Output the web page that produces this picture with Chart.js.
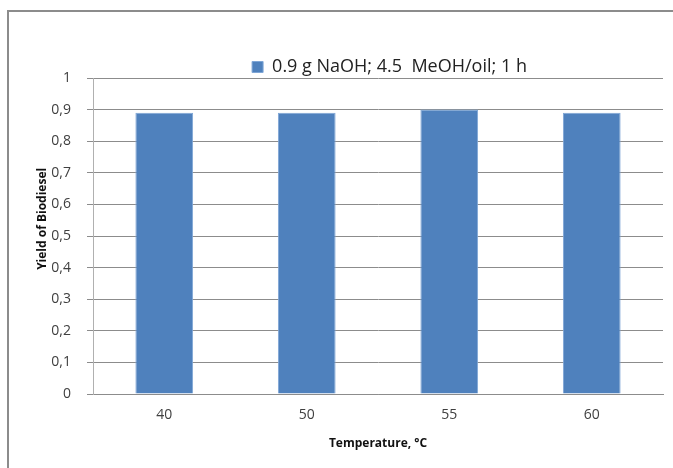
<!DOCTYPE html>
<html>
<head>
<meta charset="utf-8">
<script src="https://cdn.jsdelivr.net/npm/chart.js@4"></script>
<style>
  html, body { margin: 0; padding: 0; background: #fff; overflow: hidden; }
  #wrap { position: relative; width: 673px; height: 468px; }
  #frame { position: absolute; left: 7px; top: 10px; width: 700px; height: 500px;
           border: 2px solid #8c8c8c; box-sizing: border-box; }
  canvas { position: absolute; left: 0; top: 0; }
</style>
</head>
<body>
<div id="wrap">
  <div id="frame"></div>
  <canvas id="chart" width="673" height="468"></canvas>
</div>
<script>
// data
var temperatures = ['40', '50', '55', '60'];
var yieldValues = [0.89, 0.89, 0.90, 0.89];
var seriesName = '0.9 g NaOH; 4.5  MeOH/oil; 1 h';
var yTicks = [0, 0.1, 0.2, 0.3, 0.4, 0.5, 0.6, 0.7, 0.8, 0.9, 1];

function fmt(v) {
  if (v === 0 || v === 1) return String(v);
  return v.toFixed(1).replace('.', ',');
}

// the legend in the original sits right of centre and close to the plot
var legendShift = {
  id: 'legendShift',
  afterLayout: function(chart) {
    var lg = chart.legend;
    if (lg) {
      lg.left += 58; lg.right += 58;
      lg.top += 8; lg.bottom += 8;
    }
  }
};

var ctx = document.getElementById('chart').getContext('2d');
new Chart(ctx, {
  type: 'bar',
  data: {
    labels: temperatures,
    datasets: [{
      label: seriesName,
      data: yieldValues,
      backgroundColor: '#4F81BD',
      borderColor: '#7FA6D6',
      borderWidth: 1,
      barPercentage: 0.405,
      categoryPercentage: 1
    }]
  },
  plugins: [legendShift],
  options: {
    responsive: false,
    animation: false,
    layout: { padding: { top: 50, right: 10, left: 0, bottom: 0 } },
    plugins: {
      tooltip: { enabled: false },
      legend: {
        position: 'top',
        labels: {
          font: { family: 'Open Sans', size: 18 },
          color: '#222',
          boxWidth: 11,
          boxHeight: 11,
          padding: 0
        }
      }
    },
    scales: {
      x: {
        grid: { display: false, drawTicks: false },
        border: { display: true, color: '#8c8c8c' },
        ticks: { font: { family: 'Open Sans', size: 14 }, color: '#404040', padding: 13 },
        title: {
          display: true,
          text: 'Temperature, °C',
          font: { family: 'Open Sans', size: 12, weight: 'bold' },
          color: '#111',
          padding: { top: 0, bottom: 17 }
        },
        afterFit: function(scale) { scale.height = 74; }
      },
      y: {
        min: 0,
        max: 1,
        afterBuildTicks: function(scale) {
          scale.ticks = yTicks.map(function(v) { return { value: v }; });
        },
        grid: { color: '#8c8c8c', tickLength: 6 },
        border: { display: true, color: '#b0b0b0' },
        ticks: {
          font: { family: 'Open Sans', size: 14 },
          color: '#404040',
          padding: 16,
          callback: function(v) { return fmt(v); }
        },
        title: {
          display: true,
          text: '           Yield of Biodiesel',
          font: { family: 'Open Sans', size: 12, weight: 'bold' },
          color: '#111',
          padding: { top: 35, bottom: 0 }
        },
        afterFit: function(scale) { scale.width = 93; }
      }
    }
  }
});
</script>
</body>
</html>
